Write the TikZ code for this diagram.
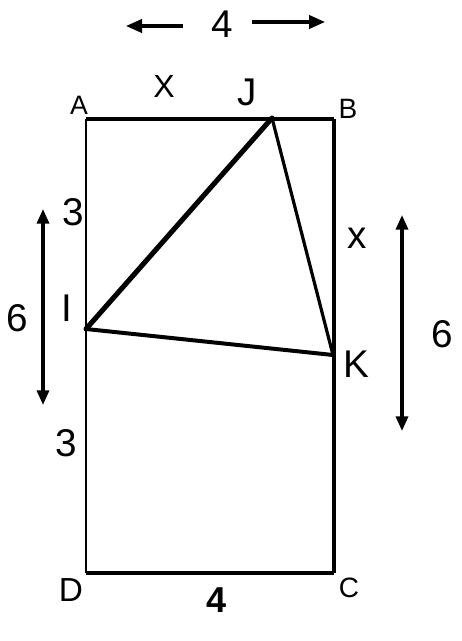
\documentclass[tikz,border=0pt]{standalone}
\usepackage{fontspec}
\setmainfont{Liberation Sans}
\usetikzlibrary{positioning, arrows.meta, calc}

\begin{document}
\begin{tikzpicture}[
        x=0.75pt, y=-0.75pt,
        biglabel/.style={inner sep=0pt, font=\fontsize{29}{30}\selectfont},
        midlabel/.style={inner sep=0pt, font=\fontsize{24}{25}\selectfont},
        smalllabel/.style={inner sep=0pt, font=\fontsize{21}{22}\selectfont},
        edge/.style={line width=#1, line cap=square},
        leg/.style={line width=#1, line cap=round},
        arrow/.style={-{Triangle[length=12pt, width=10pt]}, line width=2.3pt},
        dblarrow/.style={{Triangle[length=11pt, width=9pt]}-{Triangle[length=11pt, width=9pt]}, line width=2.5pt}
    ]
    \useasboundingbox (0,0) rectangle (461,641);

    % Points
    \coordinate (A) at (86,119);
    \coordinate (B) at (334,119);
    \coordinate (C) at (334,573);
    \coordinate (D) at (86,573);
    \coordinate (J) at (272,118);
    \coordinate (I) at (86,329);
    \coordinate (K) at (333,355);

    % Rectangle
    \draw[edge=2.3pt] (A) -- (B);
    \draw[edge=3pt] (B) -- (C);
    \draw[edge=2.3pt] (C) -- (D);
    \draw[edge=1.6pt] (D) -- (A);

    % Triangle
    \draw[leg=3.8pt] (I) -- (J);
    \draw[leg=2.4pt] (J) -- (K);
    \draw[leg=3pt] (K) -- (I);

    % Labels
    \node[smalllabel, font=\fontsize{20}{21}\selectfont] (labA) at (79,105) {A};
    \node[smalllabel] (labB) at (348,109) {B};
    \node[smalllabel] (labC) at (349,588) {C};
    \node[smalllabel, font=\fontsize{25}{26}\selectfont] (labD) at (71,590) {D};
    \node[biglabel] (labJ) at (247,92) {J};
    \node[biglabel] (labI) at (67,308) {I};
    \node[biglabel] (labK) at (356,364) {K};

    \node[midlabel] (labAJ) at (164,86) {X};
    \node[biglabel] (labBK) at (357,238) {x};
    \node[biglabel] (labAI) at (73,212) {3};
    \node[biglabel] (labID) at (66,443) {3};
    \node[biglabel, font=\bfseries\fontsize{27}{28}\selectfont] (labDC) at (217,600) {4};

    \node[biglabel] (top) at (222,24) {4};
    \node[biglabel] (left) at (17,318) {6};
    \node[biglabel] (right) at (442,334) {6};

    % Arrows
    \coordinate (topL) at (126,26);
    \coordinate (topR) at (325,22);
    \coordinate (leftT) at (43,209);
    \coordinate (leftB) at (43,405);
    \coordinate (rightT) at (402,215);
    \coordinate (rightB) at (402,431);

    \draw[arrow] (183,26) -- (topL);
    \draw[arrow] (252,22) -- (topR);
    \draw[dblarrow] (leftT) -- (leftB);
    \draw[dblarrow] (rightT) -- (rightB);

\end{tikzpicture}
\end{document}
